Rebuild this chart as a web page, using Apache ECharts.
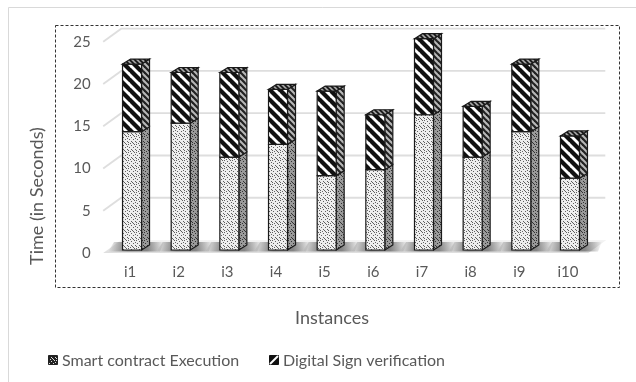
<!DOCTYPE html>
<html>
<head>
<meta charset="utf-8">
<script src="https://cdn.jsdelivr.net/npm/echarts@6/dist/echarts.min.js"></script>
<style>
  html, body { margin: 0; padding: 0; background: #fff; }
  #chart { width: 636px; height: 382px; }
</style>
</head>
<body>
<div id="chart"></div>
<script>
// Execution time per instance, in seconds
const instances = ['i1', 'i2', 'i3', 'i4', 'i5', 'i6', 'i7', 'i8', 'i9', 'i10'];
const smartContractExecution = [14, 15, 11, 12.5, 8.8, 9.5, 16, 11, 14, 8.5];
const digitalSignVerification = [8, 6, 10, 6.5, 10, 6.5, 9, 6, 8, 5];
const yTicks = [0, 5, 10, 15, 20, 25];
const seriesNames = ['Smart contract Execution', 'Digital Sign verification'];

const FONT = 'Lato, "Liberation Sans", sans-serif';
const TEXT = '#595959';

// --- fill patterns -------------------------------------------------------
function speckle(bg, dot) {
  const c = document.createElement('canvas');
  c.width = 8; c.height = 8;
  const g = c.getContext('2d');
  g.fillStyle = bg; g.fillRect(0, 0, 8, 8);
  g.fillStyle = dot;
  const pts = [[0,0],[3,1],[6,0],[1,3],[5,3],[3,5],[7,5],[0,6],[5,7],[2,7],[7,2],[4,6]];
  pts.forEach(p => g.fillRect(p[0], p[1], 1, 1));
  return { image: c, repeat: 'repeat' };
}
function hatch(bg, ink, period, width) {
  const c = document.createElement('canvas');
  c.width = period; c.height = period;
  const g = c.getContext('2d');
  g.fillStyle = bg; g.fillRect(0, 0, period, period);
  g.strokeStyle = ink; g.lineWidth = width;
  for (let k = -1; k <= 1; k++) {
    g.beginPath();
    g.moveTo(-1, k * period - 1);
    g.lineTo(period + 1, period + k * period + 1);
    g.stroke();
  }
  return { image: c, repeat: 'repeat' };
}
const fills = [
  { front: speckle('#eeeeee', '#606060'), side: speckle('#9a9a9a', '#333'), top: speckle('#9a9a9a', '#333') },
  { front: hatch('#ffffff', '#111', 10, 4.2), side: hatch('#b8b8b8', '#222', 6, 2.2), top: hatch('#a0a0a0', '#111', 5, 1.6) }
];

// --- stacked segments built from the value arrays -------------------------
function segments(values, baseValues, isTop) {
  return values.map((v, i) => {
    const lo = baseValues ? baseValues[i] : 0;
    return [i, lo, lo + v, isTop ? 1 : 0];
  });
}
const segLower = segments(smartContractExecution, null, false);
const segUpper = segments(digitalSignVerification, smartContractExecution, true);

// depth offsets of the pseudo-3D look
const BAR_DX = 8, BAR_DY = -5, BAR_SHIFT_Y = -3, BAR_HALF = 9.5;
const WALL_DX = 18, WALL_DY = -13;

function barRenderer(fill) {
  return function (params, api) {
    const i = api.value(0), lo = api.value(1), hi = api.value(2), isTop = api.value(3);
    const p0 = api.coord([i, lo]);
    const p1 = api.coord([i, hi]);
    const cx = p0[0] + 2;
    const xL = cx - BAR_HALF, xR = cx + BAR_HALF;
    const yB = p0[1] + BAR_SHIFT_Y, yT = p1[1] + BAR_SHIFT_Y;
    const edge = { stroke: '#1a1a1a', lineWidth: 1.2 };
    const children = [
      { type: 'polygon', shape: { points: [[xR, yB], [xR + BAR_DX, yB + BAR_DY], [xR + BAR_DX, yT + BAR_DY], [xR, yT]] },
        style: Object.assign({ fill: fill.side }, edge) },
      { type: 'rect', shape: { x: xL, y: yT, width: xR - xL, height: yB - yT },
        style: Object.assign({ fill: fill.front }, edge) }
    ];
    if (isTop) {
      children.push({ type: 'polygon',
        shape: { points: [[xL, yT], [xL + BAR_DX, yT + BAR_DY], [xR + BAR_DX, yT + BAR_DY], [xR, yT]] },
        style: Object.assign({ fill: fill.top }, edge) });
    }
    return { type: 'group', children: children };
  };
}

// walls: side-wall slant plus back-wall line for each tick
function gridRenderer(params, api) {
  const v = api.value(0);
  const cs = params.coordSys;
  const y = api.coord([0, v])[1];
  const x0 = cs.x - 2.5;
  const xBack = cs.x + cs.width + 13;
  return {
    type: 'polyline',
    shape: { points: [[x0, y], [x0 + WALL_DX, y + WALL_DY], [xBack, y + WALL_DY]] },
    style: { stroke: '#dedede', lineWidth: 1.8, fill: null }
  };
}

// floor with soft shadows at the foot of each bar
function floorRenderer(params, api) {
  const cs = params.coordSys;
  const y = api.coord([0, 0])[1];
  const x0 = cs.x - 2.5, x1 = cs.x + cs.width - 4;
  const children = [{
    type: 'polygon',
    shape: { points: [[x0, y], [x1, y], [x1 + WALL_DX, y + WALL_DY], [x0 + WALL_DX, y + WALL_DY]] },
    style: { fill: new echarts.graphic.LinearGradient(0, 0, 0, 1, [
      { offset: 0, color: '#f4f4f4' }, { offset: 1, color: '#dedede' }]) }
  }];
  instances.forEach((_, i) => {
    const cx = api.coord([i, 0])[0] + 2;
    const yb = y + BAR_SHIFT_Y;
    children.push({
      type: 'polygon',
      shape: { points: [[cx - 24, yb + 1.5], [cx + 28, yb + 1.5], [cx + 32, yb - 8], [cx - 18, yb - 8]] },
      style: { fill: new echarts.graphic.LinearGradient(0, 0, 1, 0, [
        { offset: 0, color: 'rgba(70,70,70,0)' },
        { offset: 0.35, color: 'rgba(70,70,70,0.7)' },
        { offset: 0.7, color: 'rgba(70,70,70,0.6)' },
        { offset: 1, color: 'rgba(70,70,70,0)' }]) }
    });
  });
  return { type: 'group', children: children };
}

const chart = echarts.init(document.getElementById('chart'), null, { renderer: 'canvas' });

chart.setOption({
  animation: false,
  backgroundColor: '#ffffff',
  grid: { left: 105.7, right: 43.7, top: 41.7, bottom: 129 },
  xAxis: {
    type: 'category',
    data: instances,
    axisLine: { show: false },
    axisTick: { show: false },
    axisLabel: { color: TEXT, fontFamily: FONT, fontSize: 15, margin: 12 }
  },
  yAxis: {
    type: 'value',
    min: yTicks[0],
    max: yTicks[yTicks.length - 1],
    interval: yTicks[1] - yTicks[0],
    splitLine: { show: false },
    axisLine: { show: false },
    axisTick: { show: false },
    axisLabel: { color: TEXT, fontFamily: FONT, fontSize: 15, margin: 15 }
  },
  series: [
    { type: 'custom', name: 'floor', data: [[0]], renderItem: floorRenderer, clip: false, z: 1, silent: true },
    { type: 'custom', name: 'grid', data: yTicks.slice(1).map(v => [v]), renderItem: gridRenderer, clip: false, z: 1, silent: true },
    { type: 'custom', name: seriesNames[0], data: segLower, renderItem: barRenderer(fills[0]), clip: false, z: 3,
      encode: { x: 0, y: [1, 2] } },
    { type: 'custom', name: seriesNames[1], data: segUpper, renderItem: barRenderer(fills[1]), clip: false, z: 3,
      encode: { x: 0, y: [1, 2] } }
  ],
  graphic: [
    // outer frame
    { type: 'rect', left: 6, top: 5, shape: { width: 640, height: 400 }, silent: true,
      style: { fill: null, stroke: '#d9d9d9', lineWidth: 1 } },
    // dashed plot-area border
    { type: 'rect', shape: { x: 55.5, y: 25.5, width: 564, height: 262 }, silent: true,
      style: { fill: null, stroke: '#333', lineWidth: 1, lineDash: [3, 2] } },
    // axis titles
    { type: 'text', x: 332, y: 318, silent: true,
      style: { text: 'Instances', fill: TEXT, font: '18px ' + FONT, align: 'center', verticalAlign: 'middle' } },
    { type: 'text', x: 37, y: 196, rotation: Math.PI / 2, silent: true,
      style: { text: 'Time (in Seconds)', fill: TEXT, font: '18px ' + FONT, align: 'center', verticalAlign: 'middle' } },
    // legend
    { type: 'rect', shape: { x: 48.5, y: 355.5, width: 9, height: 9 }, silent: true,
      style: { fill: speckle('#222', '#ddd'), stroke: '#222', lineWidth: 1 } },
    { type: 'text', x: 62, y: 360.5, silent: true,
      style: { text: seriesNames[0], fill: TEXT, font: '16px ' + FONT, verticalAlign: 'middle' } },
    { type: 'rect', shape: { x: 269.5, y: 355.5, width: 9, height: 9 }, silent: true,
      style: { fill: '#111', stroke: '#111', lineWidth: 1 } },
    { type: 'line', shape: { x1: 270, y1: 364, x2: 278, y2: 356 }, silent: true,
      style: { stroke: '#fff', lineWidth: 2 } },
    { type: 'text', x: 283, y: 360.5, silent: true,
      style: { text: seriesNames[1], fill: TEXT, font: '16px ' + FONT, verticalAlign: 'middle' } }
  ]
});
</script>
</body>
</html>
